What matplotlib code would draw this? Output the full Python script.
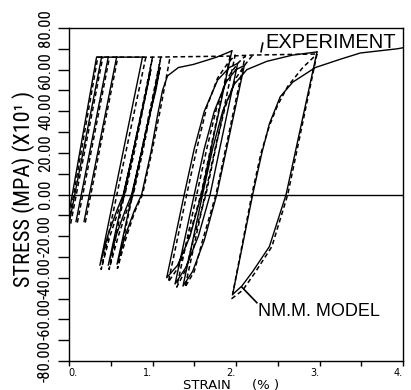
import numpy as np
import matplotlib
matplotlib.use('Agg')
import matplotlib.pyplot as plt
from matplotlib.ticker import MultipleLocator, FixedLocator
import matplotlib.transforms as mtransforms
from matplotlib import font_manager as fm

nan = np.nan

# ---------------- data: strain (%) , stress (MPa x10) ----------------
# N.M.M. model (solid)
model_g1_strain = [0.00, 0.33, 0.90, nan, 0.004, 0.39, nan, 0.084, 0.47, nan, 0.18, 0.57]
model_g1_stress = [-9, 66, 66, nan, -13.5, 66, nan, -13, 66, nan, -13, 66]

model_g2_strain = [0.88, 0.37, 0.47, 0.57, 0.65, 0.76, 0.86, 0.93, 0.98,
                   0.47, 0.57, 0.67, 0.75, 0.86, 0.96, 1.04, 1.09,
                   0.575, 0.68, 0.78, 0.87, 0.98, 1.06, 1.12, 1.18, 1.31, 1.49, 1.77, 1.95]
model_g2_stress = [66, -34, -19, -8, 0, 19, 37, 50, 60,
                   -34, -19, -8, 0, 19, 37, 50, 61,
                   -33.5, -19, -8, 0, 20, 38, 50, 57, 61, 62.5, 66, 69]

model_g3_strain = [1.95, 1.585, 1.45, 1.30, 1.17,
                   1.38, 1.50, 1.62, 1.78, 1.92, 2.02,
                   1.69, 1.55, 1.40, 1.27,
                   1.50, 1.62, 1.74, 1.88, 2.00, 2.10,
                   1.77, 1.62, 1.48, 1.365,
                   1.60, 1.72, 1.84, 1.98, 2.13, 2.37, 2.68, 2.97]
model_g3_stress = [69, 0, -20, -34, -40,
                   0, 22, 40, 55, 61, 63,
                   0, -20, -35, -43,
                   0, 22, 40, 54, 60, 62,
                   0, -22, -37, -44,
                   0, 22, 40, 53, 60, 64, 67, 68.5]

model_g4_strain = [2.97, 2.60, 2.40, 2.20, 2.07, 1.96,
                   2.20, 2.31, 2.40, 2.53, 2.68, 2.95, 3.25, 3.49, 3.93, 4.00]
model_g4_stress = [68.5, 0, -25, -37, -44, -48,
                   0, 20, 34, 47, 54, 61, 65, 68, 70, 70.5]

# Experiment (dashed)
exp_g1_strain = [0.012, 0.345, nan, 0.02, 0.405, nan, 0.10, 0.485, nan, 0.195, 0.585]
exp_g1_stress = [-10, 66, nan, -14, 66, nan, -13.5, 66, nan, -13.5, 66]

exp_plateau_strain = [0.33, 1.00, 1.93, 2.20, 2.97]
exp_plateau_stress = [66, 66, 66.5, 67, 67.5]

exp_g2_strain = [0.92, 0.385, 0.49, 0.59, 0.67, 0.78, 0.88, 0.95, 1.00,
                 0.48, 0.59, 0.69, 0.77, 0.88, 0.98, 1.05, 1.10,
                 0.58, 0.69, 0.79, 0.88, 0.99, 1.09, 1.16, 1.21]
exp_g2_stress = [66, -36, -20, -8, 0, 20, 40, 55, 66,
                 -36, -20, -8, 0, 20, 40, 55, 66,
                 -35.5, -20, -8, 0, 20, 40, 55, 66]

exp_g3_strain = [1.93, 1.58, 1.44, 1.31, 1.19,
                 1.41, 1.53, 1.65, 1.78, 1.90, 1.99,
                 1.64, 1.50, 1.40, 1.29,
                 1.53, 1.65, 1.77, 1.90, 2.02, 2.11,
                 1.76, 1.60, 1.50, 1.39,
                 1.63, 1.75, 1.87, 2.00, 2.12, 2.20]
exp_g3_stress = [66.5, 0, -20, -35, -42,
                 0, 22, 42, 56, 63, 67,
                 0, -20, -36, -44.5,
                 0, 22, 42, 56, 63, 66.5,
                 0, -22, -37, -44.5,
                 0, 22, 42, 56, 63, 67]

exp_g4_strain = [2.97, 2.62, 2.43, 2.22, 2.08, 1.95,
                 2.19, 2.30, 2.40, 2.50, 2.62, 2.80, 2.97]
exp_g4_stress = [67.5, 0, -25, -38, -46, -50,
                 0, 20, 33, 43, 52, 61, 67.5]

x_ticks = [0, 1, 2, 3, 4]
x_ticklabels = ["0.", "1.", "2.", "3.", "4."]
y_ticks = [80, 60, 40, 20, 0, -20, -40, -60, -80]
y_ticklabels = ["80.00", "60.00", "40.00", "20.00", "0.00",
                "-20.00", "-40.00", "-60.00", "-80.00"]

# ---------------- pick a narrow font if one is installed ----------------
names = {f.name for f in fm.fontManager.ttflist}
narrow = None
for cand in ['Liberation Sans Narrow', 'Roboto Condensed', 'Open Sans Condensed',
             'DejaVu Sans Condensed', 'Noto Sans Condensed']:
    if cand in names:
        narrow = cand
        break
narrow_props = dict(family=[narrow, 'DejaVu Sans']) if narrow else dict(family='DejaVu Sans')

# ---------------- figure ----------------
fig = plt.figure(figsize=(4.11, 3.90), dpi=100)
ax = fig.add_axes([69/411, 1-361/390, (403-69)/411, (361-28)/390])

solid_kw = dict(color='black', lw=1.0, solid_joinstyle='round')
dash_kw = dict(color='black', lw=1.1, linestyle=(0, (3, 2)))

for xs, ys in [(model_g1_strain, model_g1_stress), (model_g2_strain, model_g2_stress),
               (model_g3_strain, model_g3_stress), (model_g4_strain, model_g4_stress)]:
    ax.plot(xs, ys, **solid_kw)
for xs, ys in [(exp_g1_strain, exp_g1_stress), (exp_plateau_strain, exp_plateau_stress),
               (exp_g2_strain, exp_g2_stress), (exp_g3_strain, exp_g3_stress),
               (exp_g4_strain, exp_g4_stress)]:
    ax.plot(xs, ys, **dash_kw)

ax.axhline(0, color='black', lw=1.0)

ax.set_xlim(0, 4)
ax.set_ylim(-80, 80)

for s in ax.spines.values():
    s.set_linewidth(1.0)

ax.xaxis.set_major_locator(FixedLocator(x_ticks))
ax.xaxis.set_minor_locator(MultipleLocator(0.5))
ax.set_xticklabels(x_ticklabels, fontsize=7, family='DejaVu Sans')
ax.yaxis.set_major_locator(FixedLocator(y_ticks))
ax.yaxis.set_minor_locator(MultipleLocator(10))
ax.set_yticklabels(y_ticklabels, fontsize=10, **narrow_props)

ax.tick_params(axis='x', which='both', direction='out', length=3.3, width=1.0, pad=1.5)
ax.tick_params(axis='y', which='both', direction='out', length=8, width=1.0, pad=3.5)
for lab in ax.get_yticklabels():
    lab.set_rotation(90)
    lab.set_va('center')

for val, lab in zip(x_ticks, ax.get_xticklabels()):
    dx = 3.0 if val == 0 else -3.6
    lab.set_transform(lab.get_transform() + mtransforms.ScaledTranslation(dx/72, 0, fig.dpi_scale_trans))

fig.text(231/411, 1-378.5/390, "STRAIN     (% )", ha='center', va='top', fontsize=9.5,
         family='DejaVu Sans')
ylab = fig.text(24/411, 1-189/390, "STRESS (MPA) (X10\u00b9 )", rotation=90, ha='center',
                va='center', fontsize=14, **narrow_props)

ax.text(2.35, 70.3, "EXPERIMENT", fontsize=14.5, family='Liberation Sans', va='baseline', ha='left')
ax.plot([2.30, 2.32], [68.6, 72.7], color='black', lw=1.2)

ax.text(2.26, -58.6, "NM.M. MODEL", fontsize=13, family='Liberation Sans', va='baseline', ha='left')
ax.plot([2.07, 2.25], [-44.5, -52], color='black', lw=1.2)

# fit text lengths to the reference (pixels along the text direction)
fig.canvas.draw()
r = fig.canvas.get_renderer()
ext = ax.get_yticklabels()[0].get_window_extent(r)
scale = 37.0 / ext.height
for lab in ax.get_yticklabels():
    lab.set_fontsize(10 * scale)
ext = ylab.get_window_extent(r)
ylab.set_fontsize(14 * 197.0 / ext.height)

fig.savefig('out.png', dpi=100)
